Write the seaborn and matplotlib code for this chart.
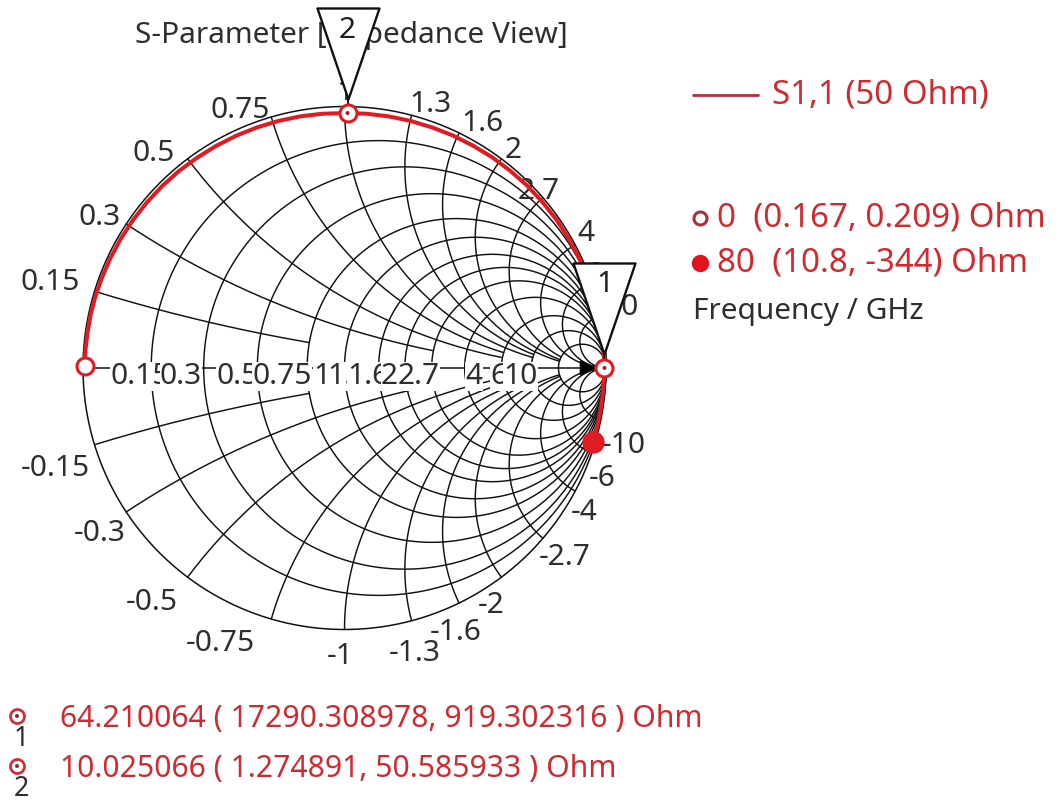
import numpy as np
import pandas as pd
import matplotlib
matplotlib.use("Agg")
import matplotlib.pyplot as plt
import seaborn as sns
from matplotlib.path import Path

# ---------------------------------------------------------------- data
z0 = 50.0  # reference impedance, Ohm

# S1,1 over the 0 ... 80 GHz sweep as reflection coefficient (angle in deg, magnitude)
s11_angle_deg = [179.5, 176, 172, 168, 164, 160, 155, 150, 145, 140, 135, 130, 125,
                 120, 115, 110, 105, 100, 95, 89.3, 85, 80, 75, 70, 65, 60, 55, 50,
                 45, 40, 35, 30, 25, 20, 15, 10, 6, 3, 0, -3, -6, -9, -12, -15, -16.8]
s11_mag = [0.993, 0.993, 0.992, 0.992, 0.991, 0.990, 0.989, 0.988, 0.987, 0.986,
           0.985, 0.984, 0.982, 0.981, 0.980, 0.979, 0.978, 0.977, 0.976, 0.975,
           0.976, 0.977, 0.978, 0.979, 0.981, 0.982, 0.984, 0.985, 0.987, 0.988,
           0.989, 0.990, 0.991, 0.992, 0.993, 0.993, 0.994, 0.994, 0.994, 0.993,
           0.993, 0.992, 0.992, 0.991, 0.991]

# sweep end points: frequency (GHz) and impedance (Ohm)
sweep_freq = [0, 80]
sweep_r = [0.167, 10.8]
sweep_x = [0.209, -344]
sweep_labels = ["0  (0.167, 0.209) Ohm", "80  (10.8, -344) Ohm"]

# curve markers: frequency (GHz) and impedance (Ohm)
marker_ids = ["1", "2"]
marker_freq = [64.210064, 10.025066]
marker_r = [17290.308978, 1.274891]
marker_x = [919.302316, 50.585933]
marker_texts = ["64.210064 ( 17290.308978, 919.302316 ) Ohm",
                "10.025066 ( 1.274891, 50.585933 ) Ohm"]

# chart grid (normalised resistance / reactance)
grid_values = [0.15, 0.3, 0.5, 0.75, 1, 1.3, 1.6, 2, 2.7, 4, 6, 10]
grid_labels = ["0.15", "0.3", "0.5", "0.75", "1", "1.3", "1.6", "2", "2.7", "4", "6", "10"]

# ---------------------------------------------------------------- style
sns.set_theme(style="white")
plt.rcParams["font.family"] = ["Noto Sans", "DejaVu Sans"]

W, H = 1060, 801
CX, CY, RAD = 344.5, 368.0, 261.5      # chart centre / radius in pixels
PT = 0.72                               # points per pixel at 100 dpi
FS = 21.5
FS_LEG = 23.8
GRID = "#111111"
TRACE = "#e01b22"
TXT_RED = "#d02a30"
TXT_DARK = "#2e2e2e"

# reactance arcs are drawn from r = 0 up to this resistance
arc_r_end = [0.75, 2, 4, 4, 6, 6, 10, 10, 10, 1e6, 1e6, 1e6]

# label placement around the rim (pixel offsets from the rim point)
up_ha = ["right", "right", "right", "right", "center", "left", "left", "left",
         "center", "left", "left", "left"]
up_dx = [-15, -6, -13, -1, 0, -2, 2, 3, -4, 2, -7, 3]
up_dy = [1, -1, -2, -1, 6, 3, 2, 1, -1, 4, 0, 1]
lo_ha = ["right", "right", "right", "right", "center", "center", "center", "right",
         "left", "left", "left", "left"]
lo_dx = [-5, -1, -10, -16, -4, 3, -3, 3, -4, -4, -3, 1]
lo_dtop = [10, 8, 12, 11, 13, 19, 16, 15, 6, 8, 12, 12]
# resistance labels on the real axis: left edge relative to the circle crossing
axis_dx = [-41, -44, -41, -55, -31, -51, -58, -51, -67, -36, -41, -55]


def gamma(z):
    return (z - 1) / (z + 1)


def P(xp, yp):
    """pixel position -> chart coordinates"""
    return (xp - CX) / RAD, (CY - yp) / RAD


def to_px(g):
    return CX + RAD * g.real, CY - RAD * g.imag


fig = plt.figure(figsize=(W / 100, H / 100), dpi=100)
ax = fig.add_axes([0, 0, 1, 1])
ax.set_xlim((0 - CX) / RAD, (W - CX) / RAD)
ax.set_ylim((CY - H) / RAD, CY / RAD)
ax.axis("off")

# ---------------------------------------------------------------- grid
t = np.linspace(0, 2 * np.pi, 1441)
ax.plot(np.cos(t), np.sin(t), color=GRID, lw=1.1, zorder=1)
ax.plot([-1, 1], [0, 0], color=GRID, lw=1.1, zorder=1)
for r in grid_values:
    c, rr = r / (1 + r), 1 / (1 + r)
    ax.plot(c + rr * np.cos(t), rr * np.sin(t), color=GRID, lw=1.05, zorder=1)
for xv, rend in zip(grid_values, arc_r_end):
    u = np.linspace(0, np.arctan(rend), 600)
    g = gamma(np.tan(u) + 1j * xv)
    ax.plot(g.real, g.imag, color=GRID, lw=1.05, zorder=1)
    ax.plot(g.real, -g.imag, color=GRID, lw=1.05, zorder=1)

# resistance labels along the real axis (white boxes, later ones overlap)
for i, (r, lab, dx) in enumerate(zip(grid_values, grid_labels, axis_dx)):
    xp, _ = to_px(gamma(complex(r, 0)))
    ax.text(*P(xp + dx, CY + 16), lab, ha="left", va="baseline", fontsize=FS,
            color=TXT_DARK, zorder=3 + i * 0.01,
            bbox=dict(facecolor="white", edgecolor="none", pad=0.0))

# reactance labels around the rim
for i, (xv, lab) in enumerate(zip(grid_values, grid_labels)):
    xp, yp = to_px(gamma(1j * xv))
    ax.text(*P(xp + up_dx[i], yp - up_dy[i]), lab, ha=up_ha[i], va="baseline",
            fontsize=FS, color=TXT_DARK, zorder=3)
    xp, yp = to_px(gamma(-1j * xv))
    ax.text(*P(xp + lo_dx[i], yp + lo_dtop[i] + 21), "-" + lab, ha=lo_ha[i],
            va="baseline", fontsize=FS, color=TXT_DARK, zorder=3)

# ---------------------------------------------------------------- S1,1 trace
ang = np.deg2rad(np.array(s11_angle_deg))
mag = np.array(s11_mag)
df = pd.DataFrame({"re": mag * np.cos(ang), "im": mag * np.sin(ang)})
sns.lineplot(data=df, x="re", y="im", sort=False, estimator=None, color=TRACE,
             lw=2.9, ax=ax, zorder=4, legend=False)

g_sweep = gamma((np.array(sweep_r) + 1j * np.array(sweep_x)) / z0)
ax.scatter(g_sweep.real[:1], g_sweep.imag[:1], s=(17 * PT) ** 2, facecolor="white",
           edgecolor=TRACE, linewidth=2.2, zorder=6)
ax.scatter(g_sweep.real[1:], g_sweep.imag[1:], s=(21 * PT) ** 2, facecolor=TRACE,
           edgecolor=TRACE, linewidth=1.0, zorder=6)

# curve markers with their flags
g_mark = gamma((np.array(marker_r) + 1j * np.array(marker_x)) / z0)
tri = Path([(-31, 105), (31, 105), (0, 14), (-31, 105)],
           [Path.MOVETO, Path.LINETO, Path.LINETO, Path.CLOSEPOLY])
for mid, g in zip(marker_ids, g_mark):
    ax.plot([g.real], [g.imag], marker=tri, ms=210 * PT, mfc="white", mec="#111111",
            mew=1.7, ls="none", zorder=8)
    ax.annotate(mid, (g.real, g.imag), xytext=(0, 83 * PT), textcoords="offset points",
                ha="center", va="center", fontsize=FS, color="#1e1e1e", zorder=9)
    ax.plot([g.real, g.real], [g.imag, g.imag + 14 / RAD], color="#111111", lw=1.4, zorder=7)
    ax.scatter([g.real], [g.imag], s=(17 * PT) ** 2, facecolor="white",
               edgecolor=TRACE, linewidth=2.2, zorder=9)
    ax.scatter([g.real], [g.imag], s=(4 * PT) ** 2, facecolor="#a02020",
               edgecolor="none", zorder=10)

# direction arrow at the open-circuit end
g1 = g_mark[0]
ax.annotate("", xy=(g1.real, g1.imag), xytext=(-17, 0), textcoords="offset points",
            arrowprops=dict(arrowstyle="-|>,head_length=0.75,head_width=0.4",
                            color="black", lw=1.2, shrinkA=0, shrinkB=7), zorder=7)

# ---------------------------------------------------------------- titles / legend
ax.text(*P(135, 36), "S-Parameter [Impedance View]", ha="left", va="center",
        fontsize=FS, color=TXT_DARK, zorder=2)

ax.plot(*zip(P(693, 95), P(758, 95)), color="#b3303c", lw=2.0, zorder=5)
ax.text(*P(772, 95), "S1,1 (50 Ohm)", ha="left", va="center", fontsize=FS_LEG,
        color=TXT_RED)

ax.scatter(*P(700, 218), s=(13 * PT) ** 2, facecolor="white", edgecolor="#a8303a",
           linewidth=2.2, zorder=5)
ax.text(*P(717, 218), sweep_labels[0], ha="left", va="center", fontsize=FS_LEG,
        color=TXT_RED)
ax.scatter(*P(700, 263), s=(16 * PT) ** 2, facecolor="#e0141c", edgecolor="#e0141c",
           zorder=5)
ax.text(*P(717, 263), sweep_labels[1], ha="left", va="center", fontsize=FS_LEG,
        color=TXT_RED)
ax.text(*P(693, 312), "Frequency / GHz", ha="left", va="center", fontsize=FS,
        color=TXT_DARK)

# marker readout below the chart
for k, (mid, txt) in enumerate(zip(marker_ids, marker_texts)):
    y = 719 + 50 * k
    ax.scatter(*P(17, y - 3), s=(14 * PT) ** 2, facecolor="white", edgecolor="#c8303a",
               linewidth=2.0, zorder=5)
    ax.scatter(*P(17, y - 3), s=(4 * PT) ** 2, facecolor="#a02020", edgecolor="none",
               zorder=6)
    ax.text(*P(21, y + 20), mid, ha="center", va="center", fontsize=FS * 0.9,
            color=TXT_DARK)
    ax.text(*P(60, y), txt, ha="left", va="center", fontsize=21.7, color=TXT_RED)

fig.savefig("out.png", dpi=100, facecolor="white")
